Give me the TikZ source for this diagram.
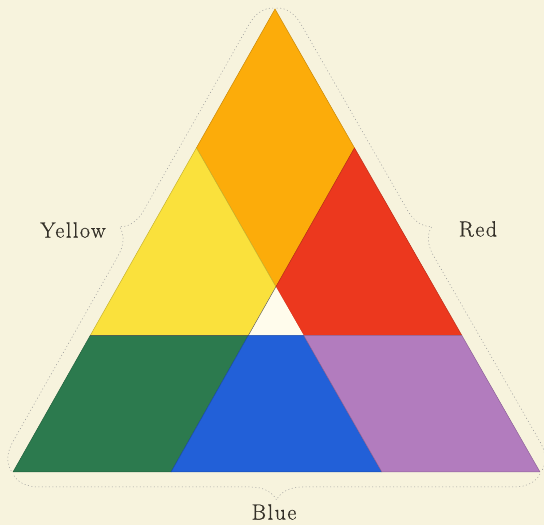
\documentclass[tikz,border=0pt]{standalone}
\usepackage{fontspec}
\setmainfont{Latin Modern Roman}[LetterSpace=7,FakeBold=0.6]
\usetikzlibrary{calc,decorations.pathreplacing}
\definecolor{paper}{RGB}{247,243,221}
\definecolor{orangepaint}{RGB}{252,172,10}
\definecolor{yellowpaint}{RGB}{250,225,60}
\definecolor{redpaint}{RGB}{236,56,30}
\definecolor{greenpaint}{RGB}{44,122,78}
\definecolor{bluepaint}{RGB}{34,96,216}
\definecolor{violetpaint}{RGB}{178,124,190}
\definecolor{whitepaint}{RGB}{255,252,236}
\definecolor{inkgray}{RGB}{52,48,40}
\begin{document}
\begin{tikzpicture}[x=1pt,y=1pt,
    patch/.style={fill=#1, draw=#1!80!black, line width=0.5pt, line join=round},
    seam/.style={draw=inkgray!80, line width=0.4pt},
    sidebrace/.style={decorate, decoration={brace, amplitude=26pt, raise=2pt},
      draw=gray!80, line width=0.5pt, dash pattern=on 1pt off 2.5pt},
    sidelabel/.style={font=\fontsize{22}{26}\selectfont, text=inkgray}]
  % paper
  \fill[paper] (0,0) rectangle (544,525);
  \useasboundingbox (0,0) rectangle (544,525);
  % corners of the big triangle
  \coordinate (A) at (275,516);
  \coordinate (B) at (13,53);
  \coordinate (C) at (540,53);
  % where the three cuts meet the sides
  \coordinate (yl) at ($(A)!0.3!(B)$);
  \coordinate (rd) at ($(A)!0.3!(C)$);
  \coordinate (hl) at ($(A)!0.705!(B)$);
  \coordinate (hr) at ($(A)!0.705!(C)$);
  \coordinate (bl) at ($(B)!0.3!(C)$);
  \coordinate (br) at ($(B)!0.7!(C)$);
  % the small white triangle in the middle
  \coordinate (mid) at ($(yl)+(rd)-(A)$);
  \coordinate (wl) at ($(hl)!0.4255!(hr)$);
  \coordinate (wr) at ($(hl)!0.5745!(hr)$);

  \path[patch=orangepaint] (A) -- (rd) -- (mid) -- (yl) -- cycle;
  \path[patch=yellowpaint] (yl) -- (mid) -- (wl) -- (hl) -- cycle;
  \path[patch=redpaint] (rd) -- (hr) -- (wr) -- (mid) -- cycle;
  \path[fill=whitepaint] (mid) -- (wr) -- (wl) -- cycle;
  \path[patch=greenpaint] (hl) -- (wl) -- (bl) -- (B) -- cycle;
  \path[patch=bluepaint] (wl) -- (wr) -- (br) -- (bl) -- cycle;
  \path[patch=violetpaint] (wr) -- (hr) -- (C) -- (br) -- cycle;
  \draw[seam] (mid) -- (wl) -- (hl);

  % dotted braces round the sides
  \draw[sidebrace] (B) -- (A);
  \draw[sidebrace] (A) -- (C);
  \draw[sidebrace] (C) -- (B);

  \node[sidelabel] (yellow) at (73,295) {Yellow};
  \node[sidelabel] (red) at (478,296) {Red};
  \node[sidelabel] (blue) at (274,13) {Blue};
\end{tikzpicture}
\end{document}
